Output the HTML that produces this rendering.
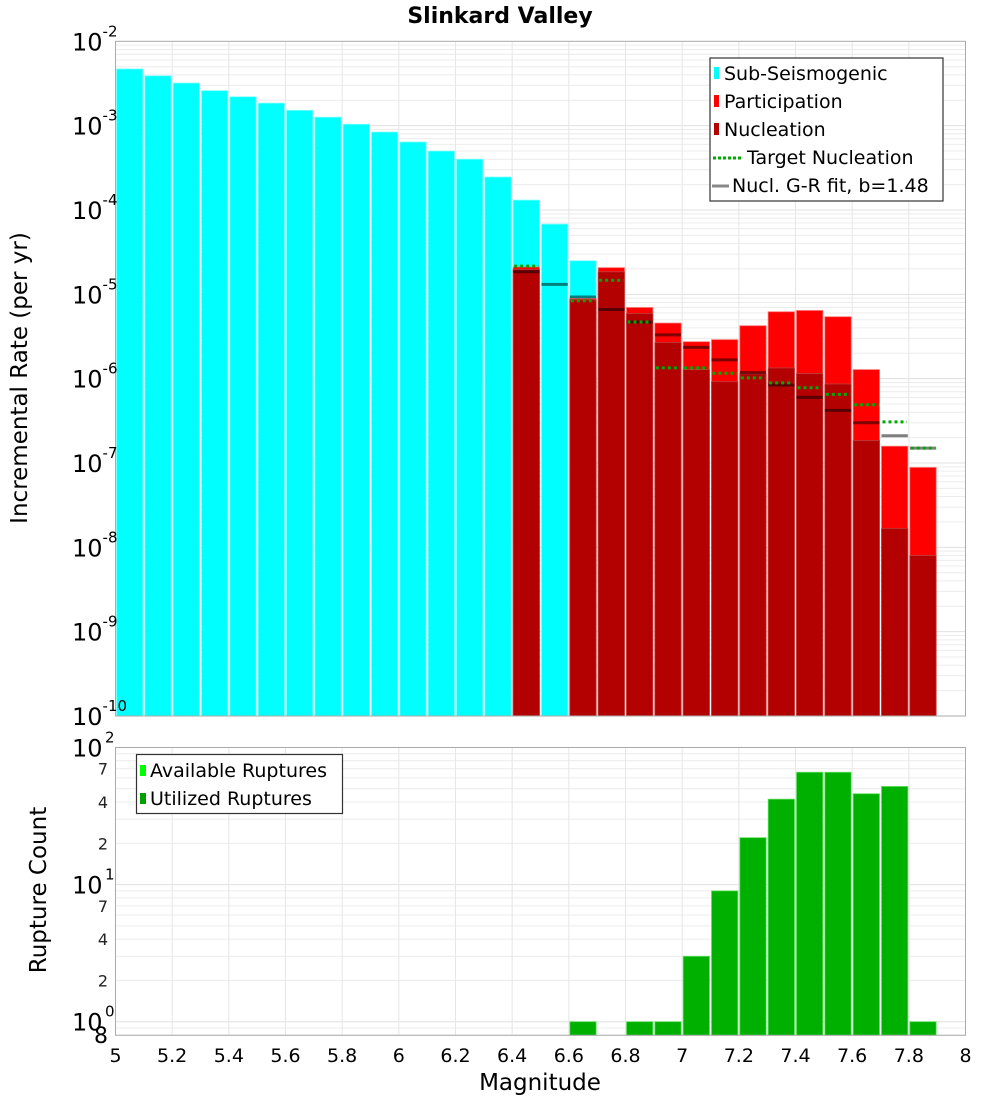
<!DOCTYPE html>
<html><head><meta charset="utf-8"><title>Slinkard Valley</title>
<style>body{margin:0;background:#fff}svg{display:block;font-family:"DejaVu Sans","Liberation Sans",sans-serif}</style></head>
<body>
<svg id="chart" width="1000" height="1100" viewBox="0 0 1000 1100" xmlns="http://www.w3.org/2000/svg">
<text x="500" y="23" text-anchor="middle" font-weight="bold" font-size="22">Slinkard Valley</text>
<g id="topPlot"></g><g id="botPlot"></g>
<text transform="translate(27,378) rotate(-90)" text-anchor="middle" font-size="23">Incremental Rate (per yr)</text>
<text transform="translate(46,890) rotate(-90)" text-anchor="middle" font-size="23">Rupture Count</text>
<text x="540" y="1090" text-anchor="middle" font-size="23">Magnitude</text>
</svg>
<script>
const mags = [5.0,5.1,5.2,5.3,5.4,5.5,5.6,5.7,5.8,5.9,6.0,6.1,6.2,6.3,6.4,6.5,6.6,6.7,6.8,6.9,7.0,7.1,7.2,7.3,7.4,7.5,7.6,7.7,7.8];
const subSeis = [4.7e-3,3.9e-3,3.2e-3,2.6e-3,2.2e-3,1.85e-3,1.52e-3,1.26e-3,1.04e-3,8.4e-4,6.4e-4,5.0e-4,4.0e-4,2.46e-4,1.31e-4,6.8e-5,2.5e-5,0,0,0,0,0,0,0,0,0,0,0,0];
const participation = [0,0,0,0,0,0,0,0,0,0,0,0,0,0,2.11e-5,0,8.9e-6,2.07e-5,6.98e-6,4.56e-6,2.74e-6,2.9e-6,4.24e-6,6.21e-6,6.43e-6,5.42e-6,1.28e-6,1.58e-7,8.85e-8];
const nucleation = [0,0,0,0,0,0,0,0,0,0,0,0,0,0,1.98e-5,0,8.6e-6,1.85e-5,5.93e-6,2.69e-6,1.28e-6,9.2e-7,1.14e-6,1.34e-6,1.15e-6,8.65e-7,1.85e-7,1.68e-8,8.0e-9];
const targetNucl = [0,0,0,0,0,0,0,0,0,0,0,0,0,0,2.16e-5,0,8.4e-6,1.47e-5,4.69e-6,1.34e-6,1.34e-6,1.16e-6,1.02e-6,8.9e-7,7.8e-7,6.5e-7,4.9e-7,3.07e-7,1.5e-7];
const grFit = [0,0,0,0,0,0,0,0,0,0,0,0,0,0,1.85e-5,1.31e-5,9.3e-6,6.6e-6,4.7e-6,3.3e-6,2.35e-6,1.67e-6,1.18e-6,8.4e-7,6.0e-7,4.2e-7,3.0e-7,2.1e-7,1.5e-7];
const ruptureCount = [0,0,0,0,0,0,0,0,0,0,0,0,0,0,0,0,1,0,1,1,3,9,22,42,66,66,46,52,1];
const xTicks = [5,5.2,5.4,5.6,5.8,6,6.2,6.4,6.6,6.8,7,7.2,7.4,7.6,7.8,8];
const topExps = [-2,-3,-4,-5,-6,-7,-8,-9,-10];
const botExps = [0,1,2];
const botMinorLabels = [2,4,7];

(function(){
const NS="http://www.w3.org/2000/svg";
const L=115.5,R=965.5,T1=41.3,B1=716,T2=747.5,B2=1035.3;
const X=m=>L+(m-5)/3*(R-L);
const Y1=v=>T1+(-2-Math.log10(v))/8*(B1-T1);
const D2=(1021.7-747.5)/2;
const Y2=v=>1021.7-Math.log10(v)*D2;
function mk(parent,tag,attrs,name,text){const e=document.createElementNS(NS,tag);for(const k in attrs)e.setAttribute(k,attrs[k]);


if(text!==undefined)e.textContent=text;parent.appendChild(e);return e;}
const gTop=document.getElementById('topPlot'),gBot=document.getElementById('botPlot');

function grid(g,T,B,Y,lo,hi){
  for(let e=lo;e<hi;e++)for(let k=1;k<10;k++){const y=Y(k*Math.pow(10,e));if(y>=T-0.5&&y<=B+0.5)mk(g,'line',{x1:L,x2:R,y1:y,y2:y,stroke:k==1?'#e0e0e0':'#ececec','stroke-width':1},'grid-line-h');}
  xTicks.forEach(t=>{const x=X(t);mk(g,'line',{x1:x,x2:x,y1:T,y2:B,stroke:'#e6e6e6','stroke-width':1},'grid-line-v');});
}
grid(gTop,T1,B1,Y1,-10,-2);
grid(gBot,T2,B2,Y2,-1,2);

function bars(g,arr,Y,base,fill,stroke,name){
  arr.forEach((v,i)=>{if(!v)return;const x0=X(mags[i])+1,x1=X(mags[i]+0.1)-1;const y=Y(v);
  mk(g,'rect',{x:x0,y:y,width:x1-x0,height:base-y,fill:fill,stroke:stroke,'stroke-width':0.8},name);});
}
bars(gTop,subSeis,Y1,B1,'#00ffff','#80ffff','bar-sub-seismogenic');
bars(gTop,participation,Y1,B1,'#ff0000','#ff7070','bar-participation');
bars(gTop,nucleation,Y1,B1,'#b30000','#c04040','bar-nucleation');
grFit.forEach((v,i)=>{if(!v)return;const y=Y1(v);mk(gTop,'line',{x1:X(mags[i])+1,x2:X(mags[i]+0.1)-1,y1:y,y2:y,stroke:'rgba(0,0,0,0.5)','stroke-width':3},'gr-fit-segment');});
targetNucl.forEach((v,i)=>{if(!v)return;const y=Y1(v);mk(gTop,'line',{x1:X(mags[i])+2,x2:X(mags[i]+0.1)-2,y1:y,y2:y,stroke:'#00aa00','stroke-width':3,'stroke-dasharray':'3,3'},'target-nucleation-segment');});
mk(gTop,'rect',{x:L,y:T1,width:R-L,height:B1-T1,fill:'none',stroke:'#aaa','stroke-width':1},'top-plot-frame');

bars(gBot,ruptureCount,Y2,B2,'#00b000','#60e060','bar-rupture-count');
mk(gBot,'rect',{x:L,y:T2,width:R-L,height:B2-T2,fill:'none',stroke:'#aaa','stroke-width':1},'bottom-plot-frame');

topExps.forEach(e=>{const y=Y1(Math.pow(10,e));const t=mk(gTop,'text',{x:72,y:y+9,'font-size':24},'top-y-tick-label');
 t.textContent='10';const s=document.createElementNS(NS,'tspan');s.setAttribute('dy','-14');s.setAttribute('font-size','15');s.textContent=String(e);t.appendChild(s);});
botExps.forEach(e=>{const y=Y2(Math.pow(10,e));const t=mk(gBot,'text',{x:72,y:y+9,'font-size':24},'bottom-y-tick-label');
 t.textContent='10';const s=document.createElementNS(NS,'tspan');s.setAttribute('dy','-14');s.setAttribute('x','105');s.setAttribute('font-size','15');s.textContent=String(e);t.appendChild(s);});
for(let e=0;e<2;e++)botMinorLabels.forEach(k=>{const y=Y2(k*Math.pow(10,e));mk(gBot,'text',{x:108,y:y+6,'font-size':16,'text-anchor':'end',fill:'#222'},'bottom-y-minor-label',String(k));});
mk(gBot,'text',{x:108,y:1043,'font-size':22,'text-anchor':'end'},'bottom-y-minor-label','8');
xTicks.forEach(t=>{mk(gBot,'text',{x:X(t),y:1062,'font-size':19,'text-anchor':'middle'},'x-tick-label',String(t));});

const lg=mk(gTop,'g',{},'rate-legend');
mk(lg,'rect',{x:710,y:58,width:233,height:143,fill:'#fff',stroke:'#333','stroke-width':1.2},'rate-legend-box');
const items=[['Sub-Seismogenic','#00ffff','box'],['Participation','#ff0000','box'],['Nucleation','#b30000','box'],['Target Nucleation','#00aa00','dot'],['Nucl. G-R fit, b=1.48','#888','line']];
items.forEach((it,i)=>{const y=73+i*28;
 if(it[2]=='box'){mk(lg,'rect',{x:714,y:y-6,width:5,height:12,fill:it[1]},'legend-swatch');mk(lg,'text',{x:724,y:y+7,'font-size':19},'legend-entry',it[0]);}
 else if(it[2]=='dot'){mk(lg,'line',{x1:713,x2:741,y1:y+1,y2:y+1,stroke:it[1],'stroke-width':3,'stroke-dasharray':'3,2'},'legend-swatch');mk(lg,'text',{x:747,y:y+7,'font-size':19},'legend-entry',it[0]);}
 else{mk(lg,'line',{x1:712,x2:729,y1:y+1,y2:y+1,stroke:it[1],'stroke-width':3},'legend-swatch');mk(lg,'text',{x:732,y:y+7,'font-size':19},'legend-entry',it[0]);}
});
const lg2=mk(gBot,'g',{},'rupture-legend');
mk(lg2,'rect',{x:136.5,y:754.5,width:206,height:59,fill:'#fff',stroke:'#333','stroke-width':1.2},'rupture-legend-box');
[['Available Ruptures','#00ff00'],['Utilized Ruptures','#00a000']].forEach((it,i)=>{const y=770+i*28;
 mk(lg2,'rect',{x:140,y:y-5,width:6,height:11,fill:it[1]},'legend-swatch');mk(lg2,'text',{x:150,y:y+7,'font-size':19},'legend-entry',it[0]);});
})();
</script>
</body></html>
